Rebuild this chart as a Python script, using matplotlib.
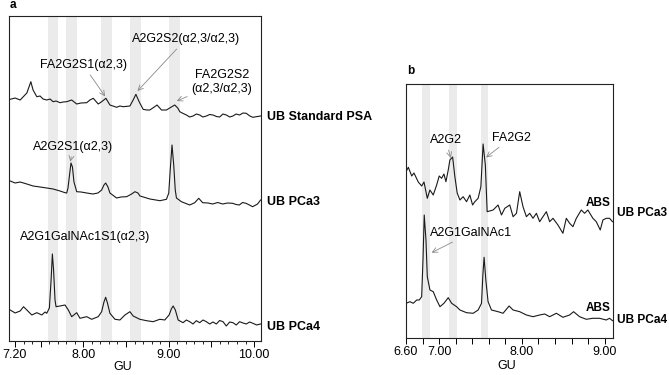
import numpy as np
import matplotlib
matplotlib.use("Agg")
import matplotlib.pyplot as plt
from matplotlib.ticker import FixedLocator

plt.rcParams["font.family"] = ["Liberation Sans", "DejaVu Sans"]

# ── Panel a: traces (GU, intensity relative to each trace's baseline) ─────────

A_STD_GU = [7.144, 7.202, 7.261, 7.339, 7.386, 7.412, 7.456, 7.494, 7.529, 7.572,
            7.611, 7.646, 7.681, 7.728, 7.763, 7.806, 7.864, 7.923, 7.973, 8.040,
            8.078, 8.117, 8.175, 8.215, 8.265, 8.312, 8.347, 8.390, 8.429, 8.467,
            8.546, 8.584, 8.616, 8.654, 8.701, 8.744, 8.779, 8.826, 8.864, 8.916,
            8.974, 9.025, 9.071, 9.106, 9.130, 9.170, 9.208, 9.245, 9.285, 9.325,
            9.363, 9.400, 9.442, 9.480, 9.519, 9.560, 9.597, 9.635, 9.675, 9.715,
            9.752, 9.790, 9.830, 9.870, 9.909, 9.950, 9.986, 10.026, 10.076]
A_STD_I = [0.7, 2, 0, 7, 18.3, 10, 3.3, 4, 1, 0,
           1, -1.7, -1, -2.7, -2, -1.7, 0, -4, -3, -2.7,
           0, 1.7, -4, -1.7, 1.7, -5, -6, -7.3, -6, -6.7,
           -6, 0, 5.7, -1.7, -9.3, -10, -10, -7.3, -5, -10,
           -10, -7.3, -5, -8, -11.7, -13.5, -15, -17, -16, -14,
           -15, -17, -16, -14.5, -15, -16.5, -17, -14, -15, -17,
           -16, -14, -15, -13, -13.3, -16, -17.3, -16.7, -16]

A_PCA3_GU = [7.144, 7.202, 7.261, 7.339, 7.412, 7.494, 7.572, 7.646, 7.728, 7.786,
             7.806, 7.821, 7.839, 7.856, 7.873, 7.891, 7.923, 7.973, 8.040, 8.113,
             8.172, 8.215, 8.242, 8.262, 8.289, 8.312, 8.390, 8.442, 8.508, 8.566,
             8.605, 8.640, 8.664, 8.780, 8.897, 8.974, 9.001, 9.018, 9.039, 9.059,
             9.077, 9.091, 9.149, 9.246, 9.305, 9.352, 9.398, 9.460, 9.515, 9.575,
             9.632, 9.690, 9.749, 9.790, 9.827, 9.865, 9.905, 9.945, 9.983, 10.041,
             10.076]
A_PCA3_I = [9, 7, 8, 6, 4, 3, 2, 1, -1, -2.7,
            -3, 2, 15, 27, 23, 8, -1.7, -2, -3, -4,
            -3, 0, 5, 7, 3, -3, -8, -7, -6.7, -4,
            -1.7, -3, -6, -9, -10.7, -9.3, -3, 20, 45, 25,
            0, -8, -11.7, -15, -12.7, -8.3, -12.7, -13, -14, -12.5,
            -14, -13, -13.3, -14.5, -15, -12.5, -13.3, -15, -16.7, -14,
            -10]

A_PCA4_GU = [7.144, 7.202, 7.261, 7.300, 7.339, 7.397, 7.456, 7.514, 7.553, 7.572,
             7.603, 7.623, 7.638, 7.652, 7.669, 7.681, 7.728, 7.786, 7.825, 7.864,
             7.923, 7.961, 8.040, 8.098, 8.175, 8.215, 8.242, 8.262, 8.283, 8.312,
             8.371, 8.429, 8.488, 8.546, 8.584, 8.662, 8.740, 8.818, 8.896, 8.954,
             9.005, 9.031, 9.052, 9.078, 9.111, 9.168, 9.207, 9.246, 9.285, 9.324,
             9.363, 9.402, 9.441, 9.480, 9.519, 9.558, 9.597, 9.636, 9.675, 9.714,
             9.753, 9.792, 9.830, 9.870, 9.909, 9.948, 9.986, 10.030, 10.076]
A_PCA4_I = [5, 2, 4, 8.3, 5, 0, 2.3, 0, 3, 1.7,
            7, 35, 61, 45, 15, 8.3, 9, 10, 5, -1.7,
            2.3, -3.3, -1.7, -4.3, -1.7, 3.3, 13, 17.7, 12, 1.7,
            -4.3, -5, 0, 3.3, -1, -4.3, -5.7, -6.7, -4.3, -5,
            0, 6, 9, 5, -5, -7.7, -5, -6.7, -9, -5.7,
            -7.7, -5, -6.7, -9, -7, -9, -5.5, -6.7, -11, -7,
            -7.7, -10, -6.7, -8, -9, -7, -8.3, -10, -9]

# ── Panel b: traces ───────────────────────────────────────────────────────────

B_PCA3_GU = [6.600, 6.628, 6.669, 6.696, 6.748, 6.789, 6.817, 6.857, 6.889, 6.929,
             6.970, 7.001, 7.030, 7.058, 7.082, 7.110, 7.130, 7.163, 7.190, 7.218,
             7.251, 7.290, 7.331, 7.371, 7.404, 7.431, 7.471, 7.504, 7.531, 7.558,
             7.580, 7.652, 7.712, 7.753, 7.793, 7.853, 7.893, 7.934, 7.973, 8.013,
             8.054, 8.094, 8.134, 8.175, 8.214, 8.254, 8.295, 8.335, 8.375, 8.435,
             8.495, 8.536, 8.576, 8.616, 8.657, 8.717, 8.757, 8.796, 8.857, 8.898,
             8.946, 8.978, 9.018, 9.058, 9.094]
B_PCA3_I = [28.3, 32.7, 24, 27, 18, 14, 18, 1.7, 10, 5,
            15, 24, 21.7, 26, 18.3, 30, 40, 43, 23.3, 7,
            0, 3.3, -1.7, 5, -5, -1.7, 1.7, 13.3, 56, 35,
            -11.7, -10, -5, -15, -8.3, -5, -16.7, -13.3, 8.3, -6.7,
            -16.7, -13.3, -18.3, -13.3, -21.7, -16.7, -11.7, -21.7, -18.3, -25,
            -33.3, -18.3, -23.3, -26.7, -18.3, -10, -13.3, -10, -18.3, -21.7,
            -30, -20, -18.3, -18.3, -21.7]

B_PCA4_GU = [6.600, 6.648, 6.688, 6.729, 6.760, 6.789, 6.805, 6.820, 6.841, 6.857,
             6.889, 6.929, 6.970, 7.010, 7.058, 7.110, 7.151, 7.211, 7.251, 7.331,
             7.411, 7.471, 7.512, 7.528, 7.543, 7.564, 7.591, 7.632, 7.712, 7.772,
             7.845, 7.893, 7.973, 8.054, 8.134, 8.214, 8.275, 8.335, 8.416, 8.495,
             8.576, 8.624, 8.696, 8.777, 8.857, 8.937, 9.018, 9.058, 9.094]
B_PCA4_I = [6.7, 8.3, 6.7, 10, 10, 13.3, 50, 95, 70, 33.3,
            20, 18.3, 10, 3.3, 6.7, 12.3, 6.7, 3.3, 0, -2.7,
            -3.3, 0, 6.7, 35, 52.7, 30, 8.3, 0, -1.7, -3.3,
            4, 0, -1.7, -5, -6.7, -5, -4, -6.7, -3.3, -7.3,
            -5, -1.7, -6.7, -9.3, -8.3, -8.3, -10, -8.3, -10.7]

# grey highlight bands (GU ranges)
A_BANDS = [(7.584, 7.708), (7.798, 7.926), (8.207, 8.338), (8.546, 8.674), (9.001, 9.130)]
B_BANDS = [(6.789, 6.889), (7.122, 7.211), (7.500, 7.592)]

# ── Layout / style ────────────────────────────────────────────────────────────

A_OFFSETS = {"std": 241, "pca3": 151, "pca4": 26}
B_OFFSETS = {"pca3": 138, "pca4": 28}
LINE_COL = "#1a1a1a"
BAND_COL = "#ebebeb"
ARROW = dict(arrowstyle="->", color="#8a8a8a", lw=0.6, shrinkA=1, shrinkB=1)
FS = 9

fig = plt.figure(figsize=(6.69, 3.75), dpi=100)
ax_a = fig.add_axes([0.0142, 0.0907, 0.3758, 0.8666])
ax_b = fig.add_axes([0.6069, 0.0987, 0.3094, 0.6773])


def style(ax):
    for s in ax.spines.values():
        s.set_linewidth(0.8)
        s.set_color("#222222")
    ax.set_yticks([])
    ax.tick_params(axis="x", which="major", length=4, width=0.7, labelsize=FS, pad=2)
    ax.tick_params(axis="x", which="minor", length=2.2, width=0.6)


# panel a
for lo, hi in A_BANDS:
    ax_a.axvspan(lo, hi, color=BAND_COL, lw=0, zorder=0)
ax_a.plot(A_STD_GU, np.array(A_STD_I) + A_OFFSETS["std"], color=LINE_COL, lw=0.8)
ax_a.plot(A_PCA3_GU, np.array(A_PCA3_I) + A_OFFSETS["pca3"], color=LINE_COL, lw=0.8)
ax_a.plot(A_PCA4_GU, np.array(A_PCA4_I) + A_OFFSETS["pca4"], color=LINE_COL, lw=0.8)
ax_a.set_xlim(7.136, 10.08)
ax_a.set_ylim(0, 325)
style(ax_a)
ax_a.xaxis.set_major_locator(FixedLocator([7.2, 7.5, 8.0, 8.5, 9.0, 9.5, 10.0]))
ax_a.set_xticklabels(["7.20", "", "8.00", "", "9.00", "", "10.00"])
ax_a.xaxis.set_minor_locator(FixedLocator(np.arange(7.3, 10.05, 0.1)))
ax_a.set_xlabel("GU", fontsize=FS, labelpad=1)
ax_a.xaxis.set_label_coords(0.452, -0.062)

ax_a.annotate("A2G2S2(\u03b12,3/\u03b12,3)", xy=(8.624, 249), xytext=(9.2, 301.7),
              ha="center", va="center", fontsize=FS, arrowprops=ARROW)
ax_a.annotate("FA2G2S1(\u03b12,3)", xy=(8.265, 243.5), xytext=(8.0, 276),
              ha="center", va="center", fontsize=FS, arrowprops=ARROW)
ax_a.annotate("FA2G2S2\n(\u03b12,3/\u03b12,3)", xy=(9.08, 239.5), xytext=(9.62, 259),
              ha="center", va="center", fontsize=FS, linespacing=1.25,
              arrowprops=ARROW)
ax_a.annotate("A2G2S1(\u03b12,3)", xy=(7.845, 178), xytext=(7.883, 194.3),
              ha="center", va="center", fontsize=FS, arrowprops=ARROW)
ax_a.text(8.02, 103.7, "A2G1GalNAc1S1(\u03b12,3)", ha="center", va="center", fontsize=FS)

for txt, v in [("UB Standard PSA", 224), ("UB PCa3", 139.3), ("UB PCa4", 14.3)]:
    ax_a.text(10.146, v, txt, ha="left", va="center", fontsize=FS,
              fontweight="bold", clip_on=False)

# panel b
for lo, hi in B_BANDS:
    ax_b.axvspan(lo, hi, color=BAND_COL, lw=0, zorder=0)
ax_b.plot(B_PCA3_GU, np.array(B_PCA3_I) + B_OFFSETS["pca3"], color=LINE_COL, lw=0.8)
ax_b.plot(B_PCA4_GU, np.array(B_PCA4_I) + B_OFFSETS["pca4"], color=LINE_COL, lw=0.8)
ax_b.set_xlim(6.6, 9.1)
ax_b.set_ylim(0, 254)
style(ax_b)
ax_b.xaxis.set_major_locator(FixedLocator(np.arange(6.6, 9.05, 0.2)))
ax_b.set_xticklabels(["6.60", "", "7.00", "", "", "", "", "8.00", "", "", "", "", "9.00"])
ax_b.set_xlabel("GU", fontsize=FS, labelpad=1)
ax_b.xaxis.set_label_coords(0.486, -0.085)

ax_b.annotate("A2G2", xy=(7.146, 178.7), xytext=(7.078, 198),
              ha="center", va="center", fontsize=FS, arrowprops=ARROW)
ax_b.annotate("FA2G2", xy=(7.553, 179.7), xytext=(7.872, 200.3),
              ha="center", va="center", fontsize=FS, arrowprops=ARROW)
ax_b.annotate("A2G1GalNAc1", xy=(6.894, 84.7), xytext=(7.387, 105.3),
              ha="center", va="center", fontsize=FS, arrowprops=ARROW)

ax_b.text(8.917, 135.3, "ABS", ha="center", va="center", fontsize=8.5, fontweight="bold")
ax_b.text(8.917, 29.7, "ABS", ha="center", va="center", fontsize=8.5, fontweight="bold")
for txt, v in [("UB PCa3", 125), ("UB PCa4", 18)]:
    ax_b.text(9.145, v, txt, ha="left", va="center", fontsize=8.6,
              fontweight="bold", clip_on=False)

fig.text(13 / 669, 1 - 5.5 / 375, "a", fontsize=8.5, fontweight="bold", ha="center", va="center")
fig.text(411 / 669, 1 - 71.5 / 375, "b", fontsize=8.5, fontweight="bold", ha="center", va="center")

fig.savefig("out.png", dpi=100)
